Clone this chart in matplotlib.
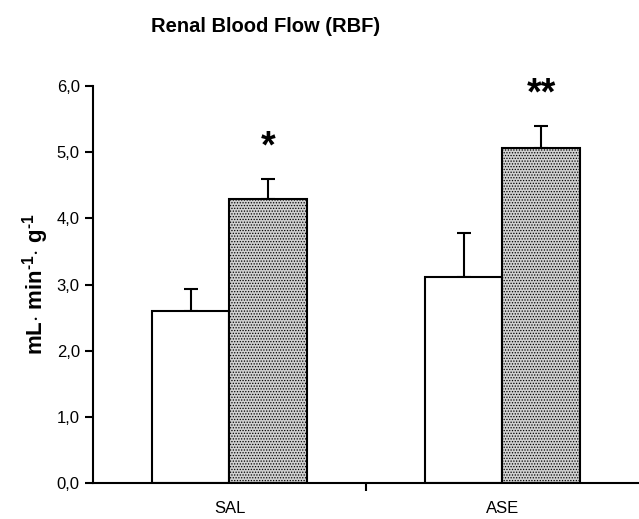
import matplotlib
matplotlib.use("Agg")
import matplotlib.pyplot as plt
import numpy as np

plt.rcParams["font.family"] = ["Liberation Sans", "DejaVu Sans"]
plt.rcParams["hatch.linewidth"] = 0.6
plt.rcParams["mathtext.fontset"] = "custom"
plt.rcParams["mathtext.rm"] = "Liberation Sans:bold"
plt.rcParams["mathtext.it"] = "Liberation Sans:bold"
plt.rcParams["mathtext.bf"] = "Liberation Sans:bold"

# data
groups = ["SAL", "ASE"]
control_mean = [2.60, 3.12]
control_err = [0.33, 0.66]
treated_mean = [4.29, 5.06]
treated_err = [0.30, 0.33]
stars = ["*", "**"]
y_ticks = [0, 1, 2, 3, 4, 5, 6]

x = np.arange(len(groups))
width = 0.285

fig = plt.figure(figsize=(6.39, 5.19), dpi=100)
ax = fig.add_axes([0.1455, 0.0694, 0.8545, 0.7646])

ax.bar(x - width / 2, control_mean, width, color="white",
       edgecolor="black", linewidth=1.5, zorder=2)
ax.bar(x + width / 2, treated_mean, width, color="#d0d0d0",
       edgecolor="black", linewidth=1.5, hatch="......", zorder=2)

# only the upper half of each error bar
ax.errorbar(x - width / 2, control_mean, yerr=[np.zeros(2), control_err],
            fmt="none", ecolor="black", elinewidth=1.5, capsize=5,
            capthick=1.5, zorder=1)
ax.errorbar(x + width / 2, treated_mean, yerr=[np.zeros(2), treated_err],
            fmt="none", ecolor="black", elinewidth=1.5, capsize=5,
            capthick=1.5, zorder=1)

for xi, top, err, s in zip(x, treated_mean, treated_err, stars):
    ax.text(xi + width / 2, top + err + 0.48, s, ha="center", va="center",
            fontsize=27, fontweight="bold")

ax.set_xlim(-0.5, 1.5)
ax.set_ylim(0, 6)
ax.set_yticks(y_ticks)
ax.set_yticklabels([f"{v:.1f}".replace(".", ",") for v in y_ticks],
                   fontsize=12)
ax.set_xticks([0.5])
ax.set_xticklabels([""])
for xi, g in zip(x, groups):
    ax.text(xi, -0.38, g, ha="center", va="center", fontsize=12)

ax.tick_params(axis="both", direction="out", length=6, width=1.5)
ax.spines["top"].set_visible(False)
ax.spines["right"].set_visible(False)
ax.spines["left"].set_linewidth(1.5)
ax.spines["bottom"].set_linewidth(1.5)

ax.set_ylabel(r"mL$\cdot$ min$^{\text{-}1}$$\cdot$ g$^{\text{-}1}$",
              fontsize=16, fontweight="bold", labelpad=4)

fig.text(0.415, 0.948, "Renal Blood Flow (RBF)", ha="center", va="center",
         fontsize=14.5, fontweight="bold")

fig.savefig("out.png", dpi=100)
